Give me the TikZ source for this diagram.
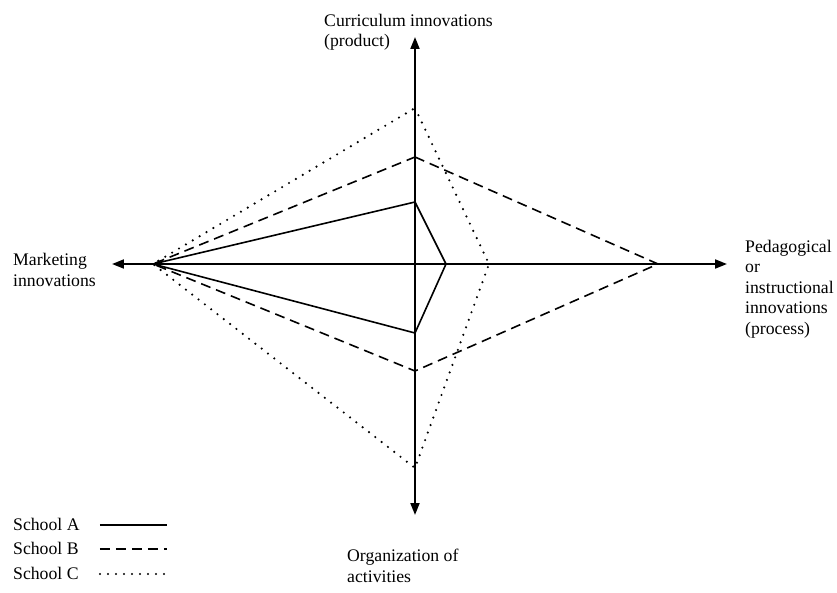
\documentclass[tikz,border=0pt]{standalone}
\usepackage{fontspec}
\setmainfont{Liberation Serif}
\usetikzlibrary{arrows.meta}

\begin{document}
\begin{tikzpicture}[x = 1pt, y = 1pt,
    axis/.style = {line width = 1.8pt, -{Triangle[length = 12pt, width = 9pt]}},
    lbl/.style = {anchor = base west, inner sep = 0pt, align = left, font = \fontsize{17.7}{20.5}\selectfont},
    schoolA/.style = {line width = 1.6pt},
    schoolB/.style = {line width = 1.6pt, dash pattern = on 10pt off 6pt},
    schoolC/.style = {line width = 2.4pt, line cap = round, dash pattern = on 0pt off 8pt}]
    \useasboundingbox (-415, -328) rectangle (422, 264);
    \coordinate (O) at (0, 0);
    \foreach \i\x\y in {N/0/227, E/312/0, S/0/-251, W/-303/0} {
        \coordinate (\i) at (\x, \y);
        \draw [axis] (O) -- (\i);
    }
    \node [lbl] (curr) at (-91, 217) {Curriculum innovations\\(product)};
    \node [lbl] (ped) at (330, -70) {Pedagogical\\or\\instructional\\innovations\\(process)};
    \node [lbl] (org) at (-68, -318) {Organization of\\activities};
    \node [lbl] (mkt) at (-402, -22) {Marketing\\innovations};
    \foreach \s\t\r\b\l in {A/62/31/69/262, B/107/243/107/262, C/156/74/204/262} {
        \coordinate (\s1) at (0, \t);
        \coordinate (\s2) at (\r, 0);
        \coordinate (\s3) at (0, -\b);
        \coordinate (\s4) at (-\l, 0);
        \draw [school\s] (\s1) -- (\s2) -- (\s3) -- (\s4) -- cycle;
    }
    \foreach \s\y in {A/-261, B/-285, C/-310} {
        \node [lbl] (key\s) at (-402, \y - 5) {School \s};
        \coordinate (k\s) at (-248, \y);
        \draw [school\s] (-315, \y) -- (k\s);
    }
\end{tikzpicture}
\end{document}
